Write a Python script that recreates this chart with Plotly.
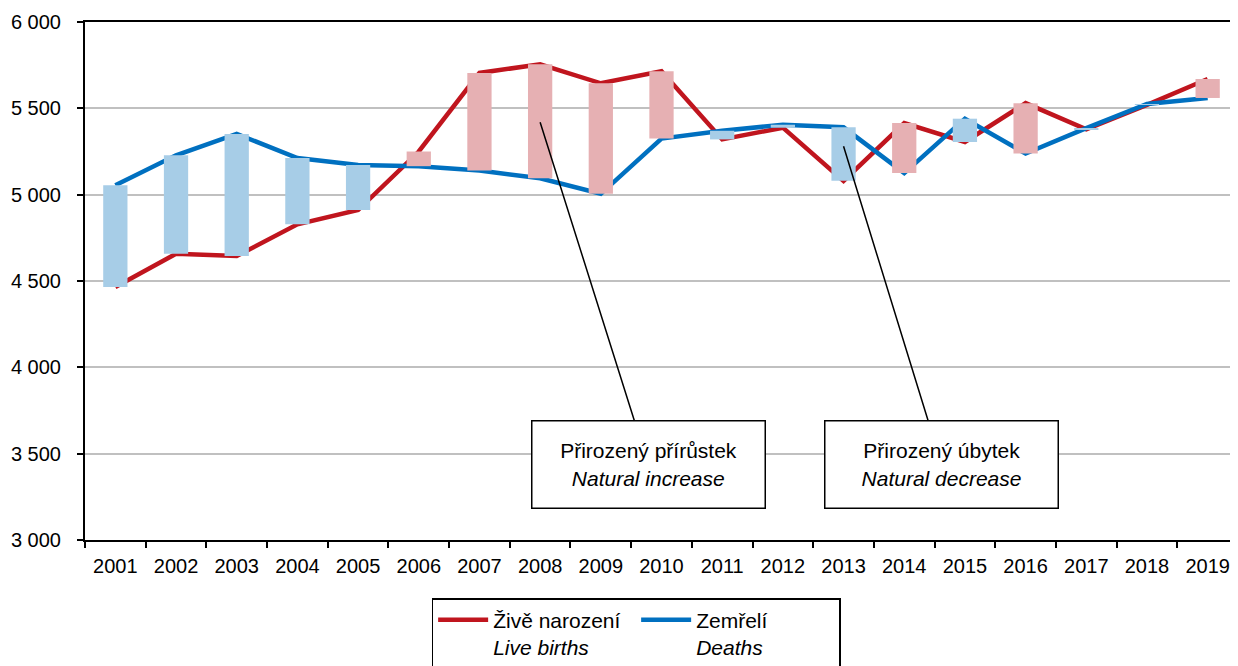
import plotly.graph_objects as go

years = ["2001", "2002", "2003", "2004", "2005", "2006", "2007", "2008", "2009", "2010",
         "2011", "2012", "2013", "2014", "2015", "2016", "2017", "2018", "2019"]
births = [4465, 4658, 4645, 4828, 4911, 5250, 5705, 5755, 5645, 5715,
          5320, 5388, 5080, 5415, 5305, 5530, 5378, 5520, 5670]
deaths = [5055, 5228, 5352, 5212, 5172, 5165, 5140, 5095, 5005, 5325,
          5370, 5405, 5390, 5125, 5440, 5238, 5385, 5525, 5560]

RED = "#C0151E"
BLUE = "#0070C0"
PINK = "#E6B0B3"
LIGHTBLUE = "#A7CDE7"
FONT = "Arial, Liberation Sans, sans-serif"

# floating bars between the two series, coloured by sign of natural change
base = [min(b, d) for b, d in zip(births, deaths)]
height = [abs(b - d) for b, d in zip(births, deaths)]
bar_colors = [PINK if b > d else LIGHTBLUE for b, d in zip(births, deaths)]

fig = go.Figure()
fig.add_trace(go.Scatter(x=years, y=births, mode="lines", name="Živě narození<br><i>Live births</i>",
                         line=dict(color=RED, width=4.5)))
fig.add_trace(go.Scatter(x=years, y=deaths, mode="lines", name="Zemřelí<br><i>Deaths</i>",
                         line=dict(color=BLUE, width=4.5)))
# bars on an overlaid axis pair so they sit on top of the lines
fig.add_trace(go.Bar(x=years, y=height, base=base, width=0.4, marker=dict(color=bar_colors, line_width=0),
                     showlegend=False, xaxis="x2", yaxis="y2", hoverinfo="skip"))

xrange = [-0.5, len(years) - 0.5]
fig.update_layout(
    width=1230, height=666,
    margin=dict(l=77, r=0, t=14, b=134, autoexpand=False),
    paper_bgcolor="white", plot_bgcolor="white",
    separators=", ",
    font=dict(family=FONT, size=21, color="black"),
    xaxis=dict(type="category", categoryorder="array", categoryarray=years, range=xrange,
               showline=True, linecolor="black", linewidth=2, mirror=True,
               ticks="outside", tickson="boundaries", ticklen=6, tickcolor="black", tickwidth=1.5,
               showgrid=False, tickangle=0, tickfont=dict(size=20), ticklabelstandoff=7),
    yaxis=dict(range=[3000, 6000], dtick=500, tickformat=",d",
               showline=True, linecolor="black", linewidth=2,
               ticks="outside", ticklen=6, tickcolor="black", tickwidth=1.5,
               showgrid=True, gridcolor="#C0C0C0", gridwidth=1.5, zeroline=False,
               tickfont=dict(size=20), ticklabelstandoff=12),
    xaxis2=dict(type="category", categoryorder="array", categoryarray=years,
                overlaying="x", anchor="y2", visible=False, range=xrange),
    yaxis2=dict(range=[3000, 6000], overlaying="y", anchor="x2", visible=False),
    showlegend=True,
    legend=dict(orientation="h", x=0.478, xanchor="center", y=-0.112, yanchor="top",
                bordercolor="black", borderwidth=1.5, font=dict(size=21),
                itemwidth=50, entrywidth=138, valign="top"),
)

i_inc = years.index("2008")
i_dec = years.index("2013")
fig.add_annotation(x=i_inc, y=5420, xref="x", yref="y", ax=108, ay=342,
                   text="Přirozený přírůstek<br><i>Natural increase</i>",
                   showarrow=True, arrowhead=0, arrowwidth=1.5, arrowcolor="black",
                   bordercolor="black", borderwidth=1.5, bgcolor="white",
                   width=228, height=82, borderpad=2, font=dict(size=21))
fig.add_annotation(x=i_dec, y=5280, xref="x", yref="y", ax=98, ay=318,
                   text="Přirozený úbytek<br><i>Natural decrease</i>",
                   showarrow=True, arrowhead=0, arrowwidth=1.5, arrowcolor="black",
                   bordercolor="black", borderwidth=1.5, bgcolor="white",
                   width=228, height=82, borderpad=2, font=dict(size=21))

# title sits mostly above the page edge, as in the source
fig.add_annotation(x=0.5, y=1.052, xref="paper", yref="paper", yanchor="middle",
                   text="Natural change in the population, 2001–2019, by Region",
                   showarrow=False, font=dict(size=20))

fig.write_html("out.html")
